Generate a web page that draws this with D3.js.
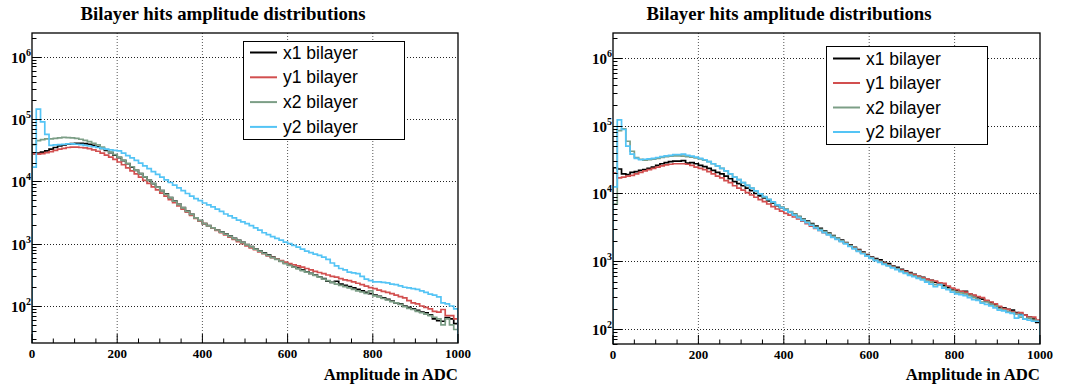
<!DOCTYPE html>
<html>
<head>
<meta charset="utf-8">
<script src="https://cdn.jsdelivr.net/npm/d3@7"></script>
<style>
  body { margin: 0; background: #fff; }
  svg { display: block; }
</style>
</head>
<body>
<svg id="chart" width="1073" height="390"></svg>
<script>
// bins: 100 bins of 10 ADC from 0 to 1000
const binLowEdges = d3.range(0, 1000, 10);
const binWidth = 10;
const seriesNames = ["x1 bilayer", "y1 bilayer", "x2 bilayer", "y2 bilayer"];
const xTickValues = [0, 200, 400, 600, 800, 1000];
const yDecades = [1e1, 1e2, 1e3, 1e4, 1e5, 1e6];
const chartTitle = "Bilayer hits amplitude distributions";
const xAxisTitle = "Amplitude in ADC";

// left pad
const leftX1 = [28000, 28500, 29500, 31000, 33000, 35000, 37000, 38500, 39500, 40500,
  41000, 41000, 40500, 39500, 38000, 36000, 34000, 31500, 29000, 26500,
  24000, 21500, 19200, 17000, 15000, 13300, 11800, 10400, 9200, 8100,
  7100, 6300, 5500, 4850, 4300, 3800, 3350, 2950, 2600, 2350,
  2100, 1950, 1800, 1670, 1550, 1430, 1320, 1220, 1130, 1050,
  970, 900, 830, 770, 715, 660, 610, 565, 525, 490,
  455, 430, 405, 380, 355, 335, 315, 295, 275, 250,
  240, 250, 225, 215, 205, 195, 185, 175, 165, 158,
  150, 143, 135, 128, 120, 112, 108, 100, 95, 90,
  85, 80, 78, 72, 62, 58, 57, 65, 62, 52];
const leftY1 = [28000, 27500, 28000, 29000, 30000, 31500, 33000, 34000, 35000, 35500,
  35500, 35000, 34500, 33500, 32000, 30500, 28500, 26500, 24500, 22500,
  20500, 18500, 16500, 14800, 13200, 11700, 10400, 9300, 8200, 7300,
  6500, 5800, 5100, 4550, 4050, 3600, 3200, 2850, 2550, 2300,
  2100, 1930, 1780, 1640, 1500, 1380, 1270, 1170, 1080, 1000,
  920, 860, 800, 740, 690, 640, 600, 565, 535, 505,
  480, 460, 440, 420, 400, 380, 360, 345, 330, 315,
  300, 290, 275, 262, 255, 245, 232, 220, 208, 198,
  190, 180, 172, 165, 158, 150, 142, 135, 122, 112,
  108, 100, 95, 90, 82, 80, 88, 70, 70, 62];
const leftX2 = [39000, 45000, 47000, 48000, 48000, 49000, 50000, 51000, 50500, 50000,
  49000, 47500, 45500, 43500, 41000, 38500, 35500, 32500, 29500, 27000,
  24500, 22000, 19500, 17200, 15200, 13400, 11800, 10400, 9200, 8100,
  7100, 6200, 5500, 4800, 4250, 3750, 3300, 2950, 2600, 2350,
  2100, 1940, 1800, 1660, 1540, 1420, 1310, 1210, 1120, 1040,
  960, 890, 820, 760, 700, 650, 600, 560, 520, 480,
  450, 420, 395, 370, 350, 330, 310, 290, 270, 255,
  240, 225, 215, 205, 195, 185, 175, 168, 160, 175,
  145, 140, 132, 125, 118, 112, 106, 98, 92, 88,
  82, 78, 74, 70, 66, 62, 50, 62, 50, 42];
const leftY2 = [17000, 145000, 90000, 57000, 38000, 38500, 39000, 39500, 40000, 40000,
  39500, 39000, 38000, 37000, 36000, 35000, 34000, 33000, 32000, 31500,
  31000, 28500, 26000, 23800, 21700, 19700, 17800, 16000, 14400, 13000,
  11700, 10600, 9600, 8700, 7900, 7100, 6400, 5800, 5300, 4900,
  4500, 4200, 3900, 3600, 3300, 3000, 2800, 2600, 2400, 2250,
  2100, 1950, 1800, 1650, 1500, 1400, 1300, 1220, 1140, 1060,
  1000, 940, 880, 820, 760, 720, 680, 650, 610, 560,
  490, 440, 400, 380, 350, 340, 330, 300, 270, 255,
  245, 245, 240, 235, 225, 220, 210, 200, 195, 190,
  185, 175, 165, 155, 150, 140, 112, 108, 100, 90];

// right pad
const rightX1 = [24000, 23000, 19500, 19000, 20500, 21000, 22000, 22500, 23500, 24500,
  26000, 27500, 28500, 29500, 30000, 30000, 30500, 28000, 28500, 27500,
  26000, 25000, 23500, 22000, 20500, 19500, 18000, 16500, 15000, 14000,
  13000, 12000, 11000, 10000, 9200, 8600, 7800, 7200, 6600, 6200,
  5800, 5350, 4950, 4550, 4200, 3900, 3600, 3300, 3050, 2800,
  2600, 2400, 2200, 2050, 1880, 1750, 1600, 1480, 1360, 1250,
  1150, 1090, 1050, 960, 920, 850, 810, 760, 720, 680,
  640, 600, 580, 540, 520, 490, 470, 440, 410, 390,
  370, 355, 360, 330, 310, 290, 275, 260, 245, 230,
  210, 205, 195, 190, 175, 165, 160, 150, 140, 125];
const rightY1 = [20000, 17000, 17500, 18000, 18500, 19500, 20500, 21500, 22500, 23500,
  24500, 25500, 26500, 27000, 27500, 27500, 27500, 27000, 26000, 24500,
  23500, 22500, 21000, 19500, 18000, 17000, 15500, 14500, 13000, 12000,
  11200, 10300, 9500, 8800, 8100, 7600, 7000, 6400, 5900, 5500,
  5100, 4800, 4500, 4200, 3900, 3600, 3300, 3050, 2850, 2650,
  2500, 2300, 2150, 2000, 1850, 1700, 1580, 1450, 1330, 1220,
  1130, 1060, 1000, 940, 880, 830, 780, 740, 700, 660,
  630, 600, 570, 545, 520, 510, 480, 470, 430, 400,
  380, 360, 350, 330, 315, 300, 290, 265, 250, 235,
  215, 200, 195, 180, 170, 175, 160, 150, 150, 135];
const rightX2 = [7000, 85000, 90000, 59000, 42000, 34000, 32000, 31000, 31500, 32000,
  33000, 34000, 35000, 35500, 36000, 36000, 35500, 35000, 34500, 33500,
  32500, 31000, 29500, 27500, 25500, 23500, 21500, 19500, 17500, 16000,
  14500, 13200, 12000, 10800, 9800, 8900, 8100, 7400, 6800, 6300,
  5900, 5400, 4950, 4550, 4150, 3800, 3500, 3200, 2950, 2750,
  2550, 2350, 2200, 2000, 1850, 1700, 1560, 1430, 1320, 1210,
  1120, 1050, 990, 920, 870, 820, 770, 720, 680, 640,
  610, 580, 550, 510, 490, 450, 450, 420, 390, 370,
  350, 340, 330, 310, 290, 270, 250, 250, 230, 220,
  200, 190, 180, 175, 165, 150, 140, 145, 135, 130];
const rightY2 = [12500, 122000, 88000, 50000, 38000, 33000, 31500, 32000, 32500, 33000,
  34000, 35000, 36000, 36500, 37500, 37500, 38000, 36500, 35500, 34500,
  33000, 31500, 29500, 27500, 25500, 23500, 21500, 19500, 17500, 16000,
  14500, 13200, 12000, 10900, 9900, 9000, 8200, 7500, 6800, 6200,
  5700, 5250, 4800, 4400, 4000, 3700, 3400, 3100, 2850, 2650,
  2450, 2250, 2100, 1950, 1800, 1650, 1520, 1400, 1290, 1190,
  1100, 1020, 960, 900, 850, 800, 750, 700, 660, 620,
  590, 560, 530, 490, 460, 420, 450, 400, 380, 350,
  330, 320, 310, 290, 270, 265, 240, 230, 220, 205,
  190, 185, 175, 170, 145, 160, 140, 135, 130, 130];

const colors = ["#000000", "#d24f4f", "#7c9e86", "#54c4f5"];
const serif = "'Liberation Serif', 'Times New Roman', serif";
const sans = "'Liberation Sans', Arial, sans-serif";

const panels = [
  { series: [leftX1, leftY1, leftX2, leftY2],
    frame: { x0: 32, x1: 458, y0: 33, y1: 343 },
    yDomain: [25.5, 2.41e6], titleX: 223,
    legend: { x: 243, y: 41, w: 161, h: 98, row0: 52.5, step: 24.8 } },
  { series: [rightX1, rightY1, rightX2, rightY2],
    frame: { x0: 613, x1: 1040, y0: 33, y1: 344 },
    yDomain: [60, 2.34e6], titleX: 789,
    legend: { x: 826, y: 46, w: 161, h: 98, row0: 58.5, step: 24.5 } }
];

const svg = d3.select("#chart");
svg.append("rect").attr("width", 1073).attr("height", 390).attr("fill", "#fff");

panels.forEach((pnl, pi) => {
  const f = pnl.frame;
  const x = d3.scaleLinear().domain([0, 1000]).range([f.x0, f.x1]);
  const y = d3.scaleLog().domain(pnl.yDomain).range([f.y1, f.y0]);
  const g = svg.append("g");

  const clipId = "clip" + pi;
  g.append("clipPath").attr("id", clipId)
    .append("rect").attr("x", f.x0).attr("y", f.y0)
    .attr("width", f.x1 - f.x0).attr("height", f.y1 - f.y0);

  // grid
  g.selectAll(".vgrid").data(xTickValues.filter(v => v > 0 && v < 1000)).enter()
    .append("line")
    .attr("x1", d => x(d)).attr("x2", d => x(d))
    .attr("y1", f.y0).attr("y2", f.y1)
    .attr("stroke", "#555").attr("stroke-width", 1).attr("stroke-dasharray", "1,2");
  const decadesIn = yDecades.filter(v => v >= pnl.yDomain[0] && v <= pnl.yDomain[1]);
  g.selectAll(".hgrid").data(decadesIn).enter()
    .append("line")
    .attr("x1", f.x0).attr("x2", f.x1)
    .attr("y1", d => Math.round(y(d)) + 0.5).attr("y2", d => Math.round(y(d)) + 0.5)
    .attr("stroke", "#222").attr("stroke-width", 1).attr("stroke-dasharray", "1,2");

  // histograms
  const hist = g.append("g").attr("clip-path", `url(#${clipId})`);
  pnl.series.forEach((vals, si) => {
    const p = d3.path();
    p.moveTo(x(binLowEdges[0]), f.y1 + 2);
    vals.forEach((v, i) => {
      const yy = Math.min(y(Math.max(v, 1)), f.y1 + 2);
      p.lineTo(x(binLowEdges[i]), yy);
      p.lineTo(x(binLowEdges[i] + binWidth), yy);
    });
    p.lineTo(x(binLowEdges[binLowEdges.length - 1] + binWidth), f.y1 + 2);
    hist.append("path").attr("d", p.toString())
      .attr("fill", "none").attr("stroke", colors[si])
      .attr("stroke-width", 1.7).attr("stroke-linejoin", "miter");
  });

  // x ticks
  const xMinor = d3.range(0, 1001, 50);
  g.selectAll(".xt").data(xMinor).enter().append("line")
    .attr("x1", d => x(d)).attr("x2", d => x(d))
    .attr("y1", f.y1).attr("y2", d => f.y1 - (d % 200 === 0 ? 9 : 4.5))
    .attr("stroke", "#000").attr("stroke-width", 1);
  g.selectAll(".xl").data(xTickValues).enter().append("text")
    .attr("x", d => x(d)).attr("y", f.y1 + 15)
    .attr("text-anchor", "middle")
    .style("font-family", serif).style("font-weight", "bold").style("font-size", "13px")
    .text(d => d);

  // y ticks
  const yMinor = [];
  yDecades.forEach(d => { for (let m = 1; m <= 9; m++) yMinor.push(m * d); });
  g.selectAll(".yt").data(yMinor.filter(v => v >= pnl.yDomain[0] && v <= pnl.yDomain[1])).enter()
    .append("line")
    .attr("x1", f.x0).attr("x2", d => f.x0 + (decadesIn.includes(d) ? 9 : 4.5))
    .attr("y1", d => Math.round(y(d)) + 0.5).attr("y2", d => Math.round(y(d)) + 0.5)
    .attr("stroke", "#000").attr("stroke-width", 1);
  const yl = g.selectAll(".yl").data(decadesIn).enter().append("text")
    .attr("x", f.x0 - 1).attr("y", d => y(d) + 6)
    .attr("text-anchor", "end")
    .style("font-family", serif).style("font-weight", "bold").style("font-size", "15px");
  yl.append("tspan").text("10");
  yl.append("tspan").attr("dy", -7).style("font-size", "10px")
    .text(d => Math.round(Math.log10(d)));

  // frame
  g.append("rect").attr("x", f.x0).attr("y", f.y0)
    .attr("width", f.x1 - f.x0).attr("height", f.y1 - f.y0)
    .attr("fill", "none").attr("stroke", "#000").attr("stroke-width", 1.3);

  // titles
  g.append("text").attr("x", pnl.titleX).attr("y", 20)
    .attr("text-anchor", "middle")
    .style("font-family", serif).style("font-weight", "bold").style("font-size", "18.8px")
    .text(chartTitle);
  g.append("text").attr("x", f.x1).attr("y", 380)
    .attr("text-anchor", "end")
    .style("font-family", serif).style("font-weight", "bold").style("font-size", "16.8px")
    .text(xAxisTitle);

  // legend
  const L = pnl.legend;
  const lg = g.append("g");
  lg.append("rect").attr("x", L.x + 0.5).attr("y", L.y + 0.5).attr("width", L.w).attr("height", L.h)
    .attr("fill", "#fff").attr("stroke", "#000").attr("stroke-width", 1);
  seriesNames.forEach((name, si) => {
    const cy = L.row0 + si * L.step;
    lg.append("line").attr("x1", L.x + 7).attr("x2", L.x + 34)
      .attr("y1", cy).attr("y2", cy)
      .attr("stroke", colors[si]).attr("stroke-width", 2);
    lg.append("text").attr("x", L.x + 40).attr("y", cy + 6)
      .style("font-family", sans).style("font-size", "17.5px")
      .text(name);
  });
});
</script>
</body>
</html>
